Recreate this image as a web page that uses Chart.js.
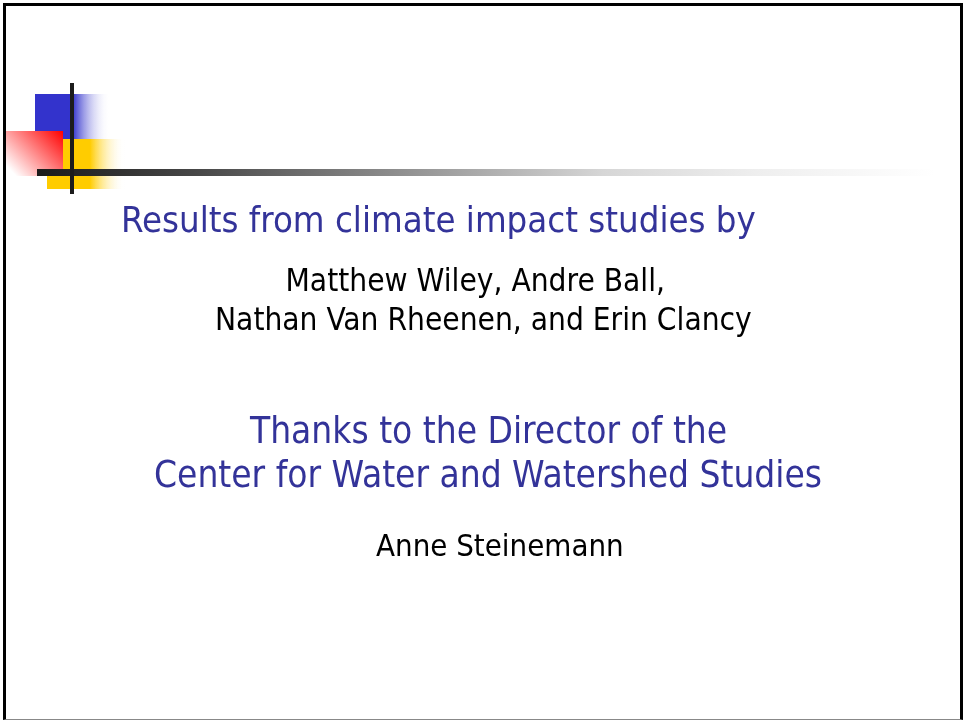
<!DOCTYPE html>
<html>
<head>
<meta charset="utf-8">
<script src="https://cdn.jsdelivr.net/npm/chart.js@4.4.1/dist/chart.umd.min.js"></script>
<style>
  html, body { margin: 0; padding: 0; background: #fff; }
  #slide { position: relative; width: 964px; height: 721px; overflow: hidden; }
  #deco { position: absolute; left: 0; top: 0; }
  #frame {
    position: absolute; left: 3px; top: 3px; width: 954px; height: 713px;
    border-left: 3px solid #000; border-top: 3px solid #000;
    border-right: 3px solid #000; border-bottom: 1px solid #888;
  }
  .line {
    position: absolute; white-space: nowrap; line-height: 1;
    font-family: "DejaVu Sans", "Liberation Sans", sans-serif;
    font-stretch: condensed;
  }
  .mark { display: inline-block; width: 0; height: 0; vertical-align: baseline; }
  .blue { color: #333399; }
  .black { color: #000; }
</style>
</head>
<body>
<div id="slide">
  <canvas id="deco" width="964" height="721"></canvas>
  <div id="frame"></div>
  <div id="text"></div>
</div>
<script>
  // Slide decoration blocks (slide units = px of the 964x721 slide)
  const BLOCK_NAMES = ['post', 'rule', 'red', 'yellow', 'blue'];
  const BLOCK_LEFT = [70, 37, 6, 47, 35];
  const BLOCK_RIGHT = [74, 935, 63, 125, 110];
  const BLOCK_TOP = [83, 169, 131, 139, 94];
  const BLOCK_BOTTOM = [194, 176, 176, 189, 139];

  // Slide text lines
  const TEXT_LINES = [
    'Results from climate impact studies by',
    'Matthew Wiley, Andre Ball,',
    'Nathan Van Rheenen, and Erin Clancy',
    'Thanks to the Director of the',
    'Center for Water and Watershed Studies',
    'Anne Steinemann',
  ];
  const TEXT_COLOR = ['blue', 'black', 'black', 'blue', 'blue', 'black'];

  // ===== TEXT =====
  (function () {
    const holder = document.getElementById('text');
    // groups share one font size, fitted so the widest line spans its width in the slide
    const group = [0, 1, 1, 2, 2, 3];
    const span = [[121, 756], [290, 660], [215, 752], [250, 727], [154, 822], [376, 624]];
    const baseline = [232, 291, 330, 443, 487, 556];

    const divs = TEXT_LINES.map((t, i) => {
      const d = document.createElement('div');
      d.className = 'line ' + TEXT_COLOR[i];
      d.style.fontSize = '100px';
      d.appendChild(document.createTextNode(t));
      const m = document.createElement('span');
      m.className = 'mark';
      d.appendChild(m);
      holder.appendChild(d);
      return d;
    });

    const groupSize = {};
    divs.forEach((d, i) => {
      const s = 100 * (span[i][1] - span[i][0]) / d.offsetWidth;
      groupSize[group[i]] = Math.max(groupSize[group[i]] || 0, s);
    });

    divs.forEach((d, i) => {
      const size = groupSize[group[i]];
      d.style.fontSize = size.toFixed(2) + 'px';
      const base = d.lastChild.offsetTop;
      d.style.top = (baseline[i] - base) + 'px';
      if (i === 0) d.style.left = span[i][0] + 'px';
      else d.style.left = ((span[i][0] + span[i][1]) / 2 - d.offsetWidth / 2) + 'px';
    });
  })();

  // ===== DECORATION CHART =====
  function fillFor(name) {
    return ctx => {
      const chart = ctx.chart;
      const xs = chart.scales.x, ys = chart.scales.y;
      if (!xs || !ys || !chart.chartArea) return '#000';
      const i = BLOCK_NAMES.indexOf(name);
      const x0 = xs.getPixelForValue(BLOCK_LEFT[i]);
      const x1 = xs.getPixelForValue(BLOCK_RIGHT[i]);
      const y0 = ys.getPixelForValue(BLOCK_TOP[i]);
      const y1 = ys.getPixelForValue(BLOCK_BOTTOM[i]);
      const c = chart.ctx;
      let g;
      if (name === 'blue') {
        g = c.createLinearGradient(x0, 0, x1, 0);
        g.addColorStop(0, '#3333cc');
        g.addColorStop(0.5, '#3333cc');
        g.addColorStop(1, 'rgba(255,255,255,0)');
      } else if (name === 'yellow') {
        g = c.createLinearGradient(x0, 0, x1, 0);
        g.addColorStop(0, '#ffcc00');
        g.addColorStop(0.55, '#ffcc00');
        g.addColorStop(1, 'rgba(255,255,255,0)');
      } else if (name === 'red') {
        g = c.createLinearGradient(x1, y0, x0 + 10, y1);
        g.addColorStop(0, '#ff0000');
        g.addColorStop(1, '#ffffff');
      } else if (name === 'rule') {
        g = c.createLinearGradient(x0, 0, x1, 0);
        g.addColorStop(0, '#1a1a1a');
        g.addColorStop(0.18, '#484848');
        g.addColorStop(0.49, '#aaaaaa');
        g.addColorStop(0.63, '#d6d6d6');
        g.addColorStop(0.8, '#eeeeee');
        g.addColorStop(1, '#ffffff');
      } else {
        g = '#1c1c1c';
      }
      return g;
    };
  }

  const datasets = BLOCK_NAMES.map((name, i) => ({
    label: name,
    data: [{ x: BLOCK_LEFT[i], y: BLOCK_TOP[i] }, { x: BLOCK_RIGHT[i], y: BLOCK_TOP[i] }],
    fill: { value: BLOCK_BOTTOM[i] },
    backgroundColor: fillFor(name),
    borderColor: 'rgba(0,0,0,0)',
    borderWidth: 0,
    pointRadius: 0,
    tension: 0,
    order: i,
  }));

  new Chart(document.getElementById('deco'), {
    type: 'line',
    data: { datasets },
    options: {
      responsive: false,
      animation: false,
      devicePixelRatio: 1,
      layout: { padding: 0 },
      plugins: { legend: { display: false }, tooltip: { enabled: false }, title: { display: false } },
      scales: {
        x: { type: 'linear', min: 0, max: 964, display: false },
        y: { type: 'linear', min: 0, max: 721, reverse: true, display: false },
      },
    },
  });
</script>
</body>
</html>
